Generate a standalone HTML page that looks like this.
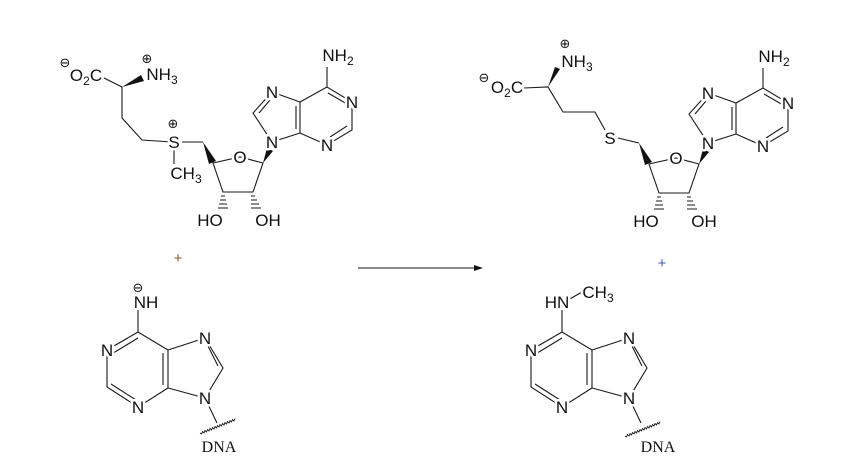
<!DOCTYPE html>
<html><head><meta charset="utf-8"><style>
html,body{margin:0;padding:0;background:#fff;}
svg{display:block;}
.b{stroke:#1a1a1a;stroke-width:1.1;fill:none;}
.t{font-family:"Liberation Sans",sans-serif;font-size:17px;fill:#111;stroke:#fff;stroke-width:5px;paint-order:stroke;stroke-linejoin:round;text-anchor:middle;}
.s{font-size:12px;}
.c{font-family:"DejaVu Sans",sans-serif;font-size:13px;fill:#111;text-anchor:middle;}
.d{font-family:"Liberation Serif",serif;font-size:16px;fill:#111;text-anchor:middle;}
</style></head><body>
<svg width="868" height="467" viewBox="0 0 868 467" xmlns="http://www.w3.org/2000/svg">
<g>
 <polygon points="203,142 209,164 216,161" fill="#111"/>
 <path class="b" d="M213,163 L240,157 L263,163 L253,192 L223,192 Z"/>
 <polygon points="263,163 267,148 273,151" fill="#111"/>
 <g class="b"><path d="M221,196h4M220,200h6M219,204h8M218,208h10M251,196h4M251,200h6M251,204h8M251,208h10"/></g>
 <path class="b" d="M272,142 L253,113 L272,92 L300,102 L300,133 Z M300,102 L327,87 L352,102 L352,130 L327,145 L300,133 M327,87 L327,67 M259,113 L270,100 M296,106 L296,129 M328,93 L347,104 M347,126 L330,137"/>
 <text class="t" x="240" y="163">O</text>
 <text class="t" x="272" y="148">N</text>
 <text class="t" x="272" y="98">N</text>
 <text class="t" x="352" y="108">N</text>
 <text class="t" x="327" y="151">N</text>
 <text class="t" x="338" y="61">NH<tspan class="s" dy="4">2</tspan></text>
 <text class="t" x="210" y="226">HO</text>
 <text class="t" x="268" y="226">OH</text>
</g>
<path class="b" d="M100,76 L122,87 L122,118 L142,140 L172,142 M182,142 L203,142 M174,146 L174,164"/>
<polygon points="122,87 141,75 144,81" fill="#111"/>
<text class="t" x="86" y="81">O<tspan class="s" dy="4">2</tspan><tspan dy="-4">C</tspan></text>
<text class="c" x="65" y="67">⊖</text>
<text class="t" x="162" y="80">NH<tspan class="s" dy="4">3</tspan></text>
<text class="c" x="147" y="63">⊕</text>
<text class="t" x="174" y="148">S</text>
<text class="c" x="173" y="128">⊕</text>
<text class="t" x="186" y="179">CH<tspan class="s" dy="4">3</tspan></text>

<g transform="translate(436,1)">
 <polygon points="203,142 209,164 216,161" fill="#111"/>
 <path class="b" d="M213,163 L240,157 L263,163 L253,192 L223,192 Z"/>
 <polygon points="263,163 267,148 273,151" fill="#111"/>
 <g class="b"><path d="M221,196h4M220,200h6M219,204h8M218,208h10M251,196h4M251,200h6M251,204h8M251,208h10"/></g>
 <path class="b" d="M272,142 L253,113 L272,92 L300,102 L300,133 Z M300,102 L327,87 L352,102 L352,130 L327,145 L300,133 M327,87 L327,67 M259,113 L270,100 M296,106 L296,129 M328,93 L347,104 M347,126 L330,137"/>
 <text class="t" x="240" y="163">O</text>
 <text class="t" x="272" y="148">N</text>
 <text class="t" x="272" y="98">N</text>
 <text class="t" x="352" y="108">N</text>
 <text class="t" x="327" y="151">N</text>
 <text class="t" x="338" y="61">NH<tspan class="s" dy="4">2</tspan></text>
 <text class="t" x="210" y="226">HO</text>
 <text class="t" x="268" y="226">OH</text>
</g>
<path class="b" d="M524,88 L548,87 L563,112 L595,112 L605,130 M618,138 L639,143"/>
<polygon points="548,87 555,67 560,69" fill="#111"/>
<text class="t" x="507" y="93">O<tspan class="s" dy="4">2</tspan><tspan dy="-4">C</tspan></text>
<text class="c" x="484" y="82">⊖</text>
<text class="t" x="577" y="67">NH<tspan class="s" dy="4">3</tspan></text>
<text class="c" x="565" y="48">⊕</text>
<text class="t" x="610" y="144">S</text>

<text x="178" y="263" style="font-family:'Liberation Sans',sans-serif;font-size:15px;fill:#a0522d;text-anchor:middle">+</text>
<text x="662" y="268" style="font-family:'Liberation Sans',sans-serif;font-size:15px;fill:#3a5fa0;text-anchor:middle">+</text>
<path class="b" d="M358,268 L478,268"/>
<polygon points="483,268 474,265 474,271" fill="#111"/>

<g>
 <path class="b" d="M205,398 L223,368 L205,338 L168,350 L168,388 Z M168,350 L138,332 L107,350 L107,387 L138,407 L168,388 M138,332 L138,310 M208,346 L218,366 M163,353 L163,385 M138,338 L110,355 M111,384 L136,400 M205,398 L217,423"/>
 <path class="b" style="stroke-width:0.9" d="M200,433 l1.5,1 l1,-2.5 l1.5,1.5 l1,-2.5 l1.5,1.5 l1,-2.5 l1.5,1.5 l1,-2.5 l1.5,1.5 l1,-2.5 l1.5,1.5 l1,-2.5 l1.5,1.5 l1,-2.5 l1.5,1.5 l1,-2.5 l1.5,1.5 l1,-2.5 l1.5,1.5 l1,-2.5 l1.5,1.5 l1,-2.5 l1.5,1.5 l1,-2.5 l1.5,1.5 l1,-2.5 l1.5,1.5 l1,-2.5"/>
 <text class="t" x="107" y="356">N</text>
 <text class="t" x="138" y="413">N</text>
 <text class="t" x="205" y="344">N</text>
 <text class="t" x="205" y="404">N</text>
 <text class="t" x="146" y="308">NH</text>
 <text class="c" x="138" y="292">⊖</text>
 <text class="d" x="219" y="452">DNA</text>
</g>
<g transform="translate(424,0)">
 <path class="b" d="M205,398 L223,368 L205,338 L168,350 L168,388 Z M168,350 L138,332 L107,350 L107,387 L138,407 L168,388 M138,332 L138,310 M208,346 L218,366 M163,353 L163,385 M138,338 L110,355 M111,384 L136,400 M205,398 L217,423"/>
 <path class="b" style="stroke-width:0.9" d="M201,436 l1.5,1 l1,-2.5 l1.5,1.5 l1,-2.5 l1.5,1.5 l1,-2.5 l1.5,1.5 l1,-2.5 l1.5,1.5 l1,-2.5 l1.5,1.5 l1,-2.5 l1.5,1.5 l1,-2.5 l1.5,1.5 l1,-2.5 l1.5,1.5 l1,-2.5 l1.5,1.5 l1,-2.5 l1.5,1.5 l1,-2.5 l1.5,1.5 l1,-2.5 l1.5,1.5 l1,-2.5 l1.5,1.5 l1,-2.5"/>
 <text class="t" x="107" y="356">N</text>
 <text class="t" x="138" y="413">N</text>
 <text class="t" x="205" y="344">N</text>
 <text class="t" x="205" y="404">N</text>
 <text class="d" x="234" y="452">DNA</text>
</g>
<path class="b" d="M568,300 L582,292"/>
<text class="t" x="557" y="308">HN</text>
<text class="t" x="598" y="298">CH<tspan class="s" dy="4">3</tspan></text>
</svg>
</body></html>
